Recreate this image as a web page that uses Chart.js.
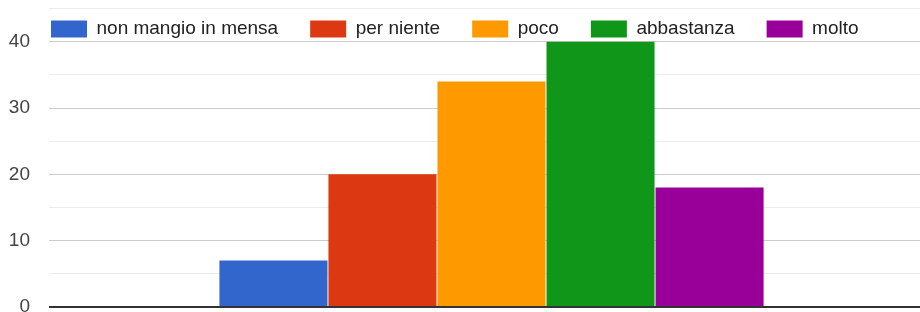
<!DOCTYPE html>
<html>
<head>
<meta charset="utf-8">
<script src="https://cdn.jsdelivr.net/npm/chart.js@4.4.1/dist/chart.umd.min.js"></script>
<style>
  html, body { margin: 0; padding: 0; background: #fff; overflow: hidden; }
  /* the original plot runs a bit past the right edge of the picture */
  #wrap { width: 934px; height: 312px; }
</style>
</head>
<body>
<div id="wrap"><canvas id="mensaChart"></canvas></div>
<script>
// Answers (single question, one group of bars)
const categories = [""];
const seriesLabels = ["non mangio in mensa", "per niente", "poco", "abbastanza", "molto"];
const seriesValues = [7, 20, 34, 40, 18];
const seriesColors = ["#3366cc", "#dc3912", "#ff9900", "#109618", "#990099"];
const yTicks = [0, 10, 20, 30, 40];

// legend takes no room so the plot runs up under it, like the original
const overlayLegend = {
  id: "overlayLegend",
  beforeLayout(chart) {
    const legend = chart.legend;
    if (legend && !legend._patched) {
      const fit = legend.fit;
      legend.fit = function () {
        fit.call(this);
        this.height = 0;
      };
      legend._patched = true;
    }
  },
  afterLayout(chart) {
    const legend = chart.legend;
    if (!legend) return;
    legend.left = 19;
    legend.top = -12.5;
    legend.height = 60;
    legend.bottom = legend.top + legend.height;
  }
};

const ctx = document.getElementById("mensaChart").getContext("2d");

new Chart(ctx, {
  type: "bar",
  data: {
    labels: categories,
    datasets: seriesLabels.map((label, i) => ({
      label: label,
      data: [seriesValues[i]],
      backgroundColor: seriesColors[i],
      borderWidth: 0,
      categoryPercentage: 0.616,
      barPercentage: 0.991
    }))
  },
  options: {
    responsive: true,
    maintainAspectRatio: false,
    animation: false,
    layout: { padding: { left: 0, right: 0, top: 8.5, bottom: 5 } },
    plugins: {
      legend: {
        position: "top",
        align: "start",
        labels: {
          boxWidth: 36,
          boxHeight: 17,
          padding: 32,
          color: "#222",
          font: { family: "'Liberation Sans', Arial, sans-serif", size: 19 }
        }
      },
      tooltip: { enabled: false }
    },
    scales: {
      x: { display: false },
      y: {
        min: 0,
        max: 45,
        afterFit(scale) {
          scale.width = 49;
          scale.paddingTop = 0;
          scale.paddingBottom = 0;
        },
        border: { display: false },
        grid: {
          drawTicks: false,
          color: (c) => c.tick.value === 0 ? "#333" : (yTicks.includes(c.tick.value) ? "#cccccc" : "#ebebeb"),
          lineWidth: (c) => c.tick.value === 0 ? 2 : 1
        },
        ticks: {
          stepSize: 5,
          padding: 19,
          color: "#444",
          font: { family: "'Liberation Sans', Arial, sans-serif", size: 19 },
          callback: (v) => yTicks.includes(v) ? v : ""
        }
      }
    }
  },
  plugins: [overlayLegend]
});
</script>
</body>
</html>
